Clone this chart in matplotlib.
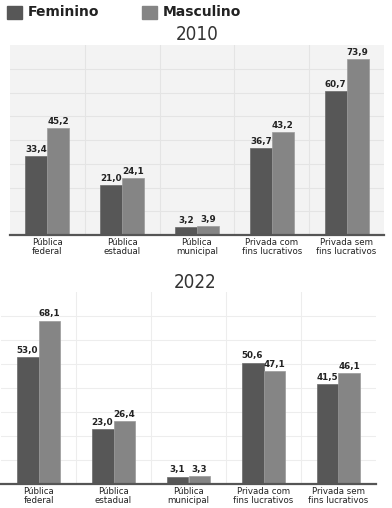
import matplotlib.pyplot as plt
import numpy as np
from matplotlib.patches import Rectangle

categorias = ["Pública\nfederal", "Pública\nestadual", "Pública\nmunicipal",
              "Privada com\nfins lucrativos", "Privada sem\nfins lucrativos"]
fem_2010 = [33.4, 21.0, 3.2, 36.7, 60.7]
masc_2010 = [45.2, 24.1, 3.9, 43.2, 73.9]
fem_2022 = [53.0, 23.0, 3.1, 50.6, 41.5]
masc_2022 = [68.1, 26.4, 3.3, 47.1, 46.1]

COR_FEM = "#575757"
COR_MASC = "#858585"


def fmt(v):
    return f"{v:.1f}".replace(".", ",")


def painel(ax, fem, masc, bg, grid):
    x = np.arange(len(categorias))
    w = 0.293
    ax.set_facecolor(bg)
    b1 = ax.bar(x - w / 2, fem, w, color=COR_FEM, edgecolor="#6a6a6a", linewidth=0.5, zorder=3)
    b2 = ax.bar(x + w / 2, masc, w, color=COR_MASC, edgecolor="#9a9a9a", linewidth=0.5, zorder=3)
    for bars, vals in ((b1, fem), (b2, masc)):
        for b, v in zip(bars, vals):
            ax.annotate(fmt(v), (b.get_x() + b.get_width() / 2, v), xytext=(0, 1.5),
                        textcoords="offset points", ha="center", va="bottom",
                        fontsize=6.3, fontweight="bold", color="#222222")
    ax.set_xlim(-0.5, len(categorias) - 0.5)
    ax.set_ylim(0, 80)
    ax.set_yticks(np.arange(10, 80, 10))
    ax.set_xticks(x)
    ax.set_xticklabels(categorias, fontsize=6.2, color="#222222", linespacing=1.05)
    ax.set_xticks(np.arange(0.5, len(categorias) - 0.5, 1), minor=True)
    ax.tick_params(axis="x", which="both", length=0, pad=2)
    ax.tick_params(axis="y", length=0, labelleft=False)
    ax.grid(True, axis="y", color=grid, linewidth=0.8, zorder=0)
    ax.grid(True, axis="x", which="minor", color=grid, linewidth=0.8, zorder=0)
    ax.grid(False, axis="x", which="major")
    for s in ("top", "left", "right"):
        ax.spines[s].set_visible(False)
    ax.spines["bottom"].set_color("#555555")
    ax.spines["bottom"].set_linewidth(1.6)
    ax.spines["bottom"].set_zorder(4)


fig = plt.figure(figsize=(3.92, 5.08), dpi=100)

ax1 = fig.add_axes([10 / 392, 1 - 235 / 508, 374 / 392, 190 / 508])
painel(ax1, fem_2010, masc_2010, "#f3f3f3", "#e4e4e4")

ax2 = fig.add_axes([1 / 392, 1 - 484 / 508, 375 / 392, 192 / 508])
painel(ax2, fem_2022, masc_2022, "#ffffff", "#ededed")

for y, ano, xc in ((35, "2010", 197), (283, "2022", 195)):
    fig.text(xc / 392, 1 - y / 508, ano, ha="center", va="center",
             fontsize=13.5, family="DejaVu Sans", fontstretch="condensed",
             fontweight="light", color="#333333")

# legenda
fig.patches.append(Rectangle((7 / 392, 1 - 19 / 508), 15 / 392, 13 / 508,
                             transform=fig.transFigure, color=COR_FEM))
fig.text(28 / 392, 1 - 12.5 / 508, "Feminino", ha="left", va="center",
         fontsize=10, fontweight="bold", color="#222222")
fig.patches.append(Rectangle((142 / 392, 1 - 19 / 508), 15 / 392, 13 / 508,
                             transform=fig.transFigure, color=COR_MASC))
fig.text(163 / 392, 1 - 12.5 / 508, "Masculino", ha="left", va="center",
         fontsize=10, fontweight="bold", color="#222222")

fig.savefig("out.png", dpi=100)
